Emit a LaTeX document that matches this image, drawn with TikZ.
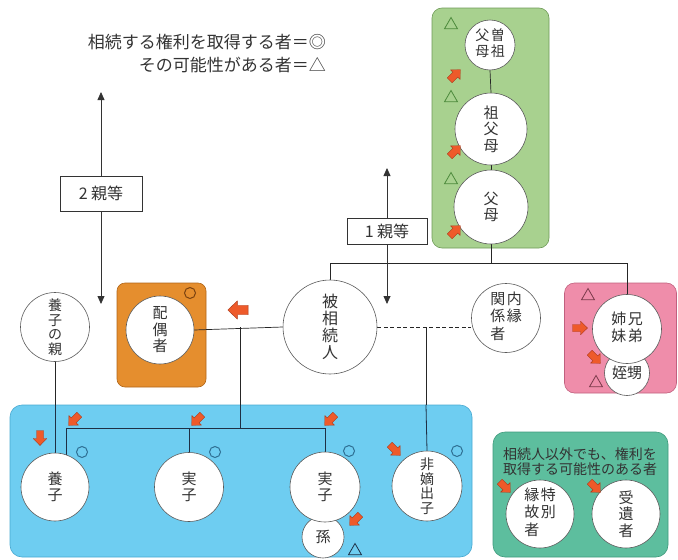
\documentclass[tikz,border=0pt]{standalone}
\usepackage{fontspec}
\setmainfont{Noto Sans CJK JP}
\usetikzlibrary{arrows.meta,shapes.geometric}
\definecolor{txt}{HTML}{333333}
\definecolor{gbox}{HTML}{A8D18F}
\definecolor{gboxd}{HTML}{6E9A57}
\definecolor{gtri}{HTML}{4C8A3C}
\definecolor{obox}{HTML}{E58E2E}
\definecolor{oboxd}{HTML}{B0661A}
\definecolor{omark}{HTML}{7A4210}
\definecolor{pbox}{HTML}{EF8DAA}
\definecolor{pboxd}{HTML}{C0607E}
\definecolor{ptri}{HTML}{7A3A4A}
\definecolor{bbox}{HTML}{6ECDF1}
\definecolor{bboxd}{HTML}{48A9D1}
\definecolor{tbox}{HTML}{5DBE9E}
\definecolor{tboxd}{HTML}{3E9A7C}
\definecolor{ared}{HTML}{EE5A2A}
\definecolor{aredd}{HTML}{A8381A}
\definecolor{bmark}{HTML}{2E6F93}
\definecolor{navy}{HTML}{1E2F45}
\pgfdeclarelayer{boxes}
\pgfdeclarelayer{lines}
\pgfsetlayers{boxes,lines,main}
\tikzset{
  person/.style={circle, draw=black!65, fill=white, line width=0.6pt, inner sep=0pt,
    text=txt, font=\fontsize{15}{16.5}\selectfont, align=center},
  areabox/.style={rectangle, rounded corners=10pt, line width=0.6pt, inner sep=0pt},
  link/.style={draw=black!85, line width=0.7pt},
  kidlink/.style={draw=navy, line width=0.8pt},
  degbox/.style={rectangle, draw=black!80, fill=white, line width=0.7pt, text=txt,
    font=\fontsize{16}{16}\selectfont, minimum width=80pt, minimum height=27pt, inner sep=0pt},
  degarrow/.style={draw=black!80, line width=0.8pt, -{Triangle[length=8pt,width=7pt]}},
  legend/.style={text=txt, font=\fontsize{17}{17}\selectfont, inner sep=0pt},
  okmark/.style={circle, draw=#1, line width=1pt, minimum size=11pt, inner sep=0pt},
  trimark/.style={regular polygon, regular polygon sides=3, draw=#1, line width=0.8pt,
    minimum size=15pt, inner sep=0pt},
  redarr/.pic={\draw[draw=aredd, fill=ared, line width=0.4pt, line join=round]
    (-7.5pt,-3.5pt) -- (0.5pt,-3.5pt) -- (0.5pt,-6.8pt) -- (7.5pt,0pt) -- (0.5pt,6.8pt)
    -- (0.5pt,3.5pt) -- (-7.5pt,3.5pt) -- cycle;}
}
\newcommand{\twocol}[1]{\begin{tabular}{@{}c@{\hspace{1.5pt}}c@{}}#1\end{tabular}}
\begin{document}
\begin{tikzpicture}[x=1pt,y=-1pt]
\useasboundingbox (0,0) rectangle (678,560);

% legend
\node[legend, anchor=east] (leg1) at (326,42) {相続する権利を取得する者＝◎};
\node[legend, anchor=east] (leg2) at (326,65) {その可能性がある者＝△};

% coloured areas
\begin{pgfonlayer}{boxes}
\node[areabox, draw=gboxd, fill=gbox, minimum width=117pt, minimum height=240pt] (gz) at (490.5,128) {};
\node[areabox, rounded corners=8pt, draw=oboxd, fill=obox, minimum width=89pt, minimum height=104pt] (oz) at (161.5,335) {};
\node[areabox, draw=pboxd, fill=pbox, minimum width=112pt, minimum height=110pt] (pz) at (620.5,338) {};
\node[areabox, rounded corners=12pt, draw=bboxd, fill=bbox, minimum width=462pt, minimum height=152pt] (bz) at (241,481) {};
\node[areabox, rounded corners=12pt, draw=tboxd, fill=tbox, minimum width=175pt, minimum height=125pt] (tz) at (580.5,494.5) {};
\end{pgfonlayer}

% degree boxes and arrows
\node[degbox, minimum width=82pt, minimum height=35pt] (deg2) at (101,193.5) {2 親等};
\coordinate (up2) at (101,92);
\coordinate (dn2) at (101,304);
\draw[degarrow] (deg2.north) -- (up2);
\draw[degarrow] (deg2.south) -- (dn2);

\node[degbox, minimum height=26pt] (deg1) at (387,231) {1 親等};
\coordinate (up1) at (387,168);
\coordinate (dn1) at (387,304);
\draw[degarrow] (deg1.north) -- (up1);
\draw[degarrow] (deg1.south) -- (dn1);

\coordinate (hl) at (0,263);
\coordinate (bar) at (0,428);

% persons
\node[person, minimum size=94pt, font=\fontsize{16}{17}\selectfont] (hi) at (330,327) {被\\相\\続\\人};
\node[person, minimum size=68pt] (spouse) at (160,330) {配\\偶\\者};
\node[person, minimum size=69pt, font=\fontsize{14}{14.5}\selectfont] (yoya) at (55,327) {養\\子\\の\\親};
\node[person, minimum size=69pt] (naien) at (506,318) {\twocol{関&内\\係&縁\\者&}};

\node[person, minimum size=50pt, font=\fontsize{14}{15}\selectfont] (sosofubo) at (490,45) {\twocol{父&曽\\母&祖}};
\node[person, minimum size=72pt] (sofubo) at (491,129) {祖\\父\\母};
\node[person, minimum size=74pt] (fubo) at (491,207) {父\\母};

\node[person, minimum size=45pt] (oimei) at (627,373) {姪甥};
\node[person, minimum size=69pt] (kyodai) at (627,329) {\twocol{姉&兄\\妹&弟}};

\node[person, minimum size=68pt] (yoshi) at (55,487) {養\\子};
\node[person, minimum size=69pt] (jitsu1) at (189,487) {実\\子};
\node[person, minimum size=42pt] (mago) at (323,537) {孫};
\node[person, minimum size=70pt] (jitsu2) at (325,487) {実\\子};
\node[person, minimum size=70pt, font=\fontsize{14}{14.5}\selectfont] (hichaku) at (427,486) {非\\嫡\\出\\子};

\node[text=txt, font=\fontsize{14}{15}\selectfont, align=center, inner sep=0pt] (tlabel) at (580,462) {相続人以外でも、権利を\\取得する可能性のある者};
\node[person, minimum size=68pt] (tokubetsu) at (540,514) {\twocol{縁&特\\故&別\\者&}};
\node[person, minimum size=68pt] (juisha) at (626,514) {受\\遺\\者};

% connectors
\begin{pgfonlayer}{lines}
\draw[link] (sosofubo.south) -- (sofubo.north);
\draw[link] (sofubo.south) -- (fubo.north);
\draw[link] (fubo.south) -- (fubo.south |- hl);
\draw[link] (hi.north) -- (hi.north |- hl) -| (kyodai.north);
\draw[link] (spouse.east) -- (hi.west);
\draw[link, dashed, dash pattern=on 4pt off 2.5pt] (hi.east) -- (naien.west |- hi.east);
\coordinate (sj) at (240,327);
\coordinate (nj) at (426,327);
\draw[link] (sj) -- (sj |- bz.north);
\draw[kidlink] (sj |- bz.north) -- (sj |- bar);
\draw[link] (nj) -- (nj |- bz.north);
\draw[kidlink] (nj |- bz.north) -- (hichaku.north);
\draw[kidlink] (yoshi.70) -- (yoshi.70 |- bar) -- (jitsu2.north |- bar) -- (jitsu2.north);
\draw[kidlink] (jitsu1.north) -- (jitsu1.north |- bar);
\draw[link] (yoya.south) -- (yoya.south |- bz.north);
\draw[kidlink] (yoya.south |- bz.north) -- (yoshi.north);
\end{pgfonlayer}

% marks
\node[trimark=gtri] (t1) at (451,25) {};
\node[trimark=gtri] (t2) at (451,98) {};
\node[trimark=gtri] (t3) at (451,180) {};
\node[trimark=ptri] (t4) at (588,296) {};
\node[trimark=ptri] (t5) at (596,383) {};
\node[trimark=navy] (t6) at (355,551) {};
\node[okmark=omark] (o1) at (190,293) {};
\node[okmark=bmark] (o2) at (82,452) {};
\node[okmark=bmark] (o3) at (215,452) {};
\node[okmark=bmark] (o4) at (349,451) {};
\node[okmark=bmark] (o5) at (457,451) {};

% red arrows
\pic[rotate=45] at (455,75) {redarr};
\pic[rotate=45] at (455,151) {redarr};
\pic[rotate=45] at (455,231) {redarr};
\pic[rotate=180, scale=1.35] at (238,310) {redarr};
\pic at (580,328) {redarr};
\pic[rotate=-45] at (595,358) {redarr};
\pic[rotate=-90] at (40,438) {redarr};
\pic[rotate=225] at (74,420) {redarr};
\pic[rotate=225] at (197,420) {redarr};
\pic[rotate=225] at (330,420) {redarr};
\pic[rotate=-45] at (395,450) {redarr};
\pic[rotate=225] at (355,520) {redarr};
\pic[rotate=-45] at (505,487) {redarr};
\pic[rotate=-45] at (595,487) {redarr};
\end{tikzpicture}
\end{document}
